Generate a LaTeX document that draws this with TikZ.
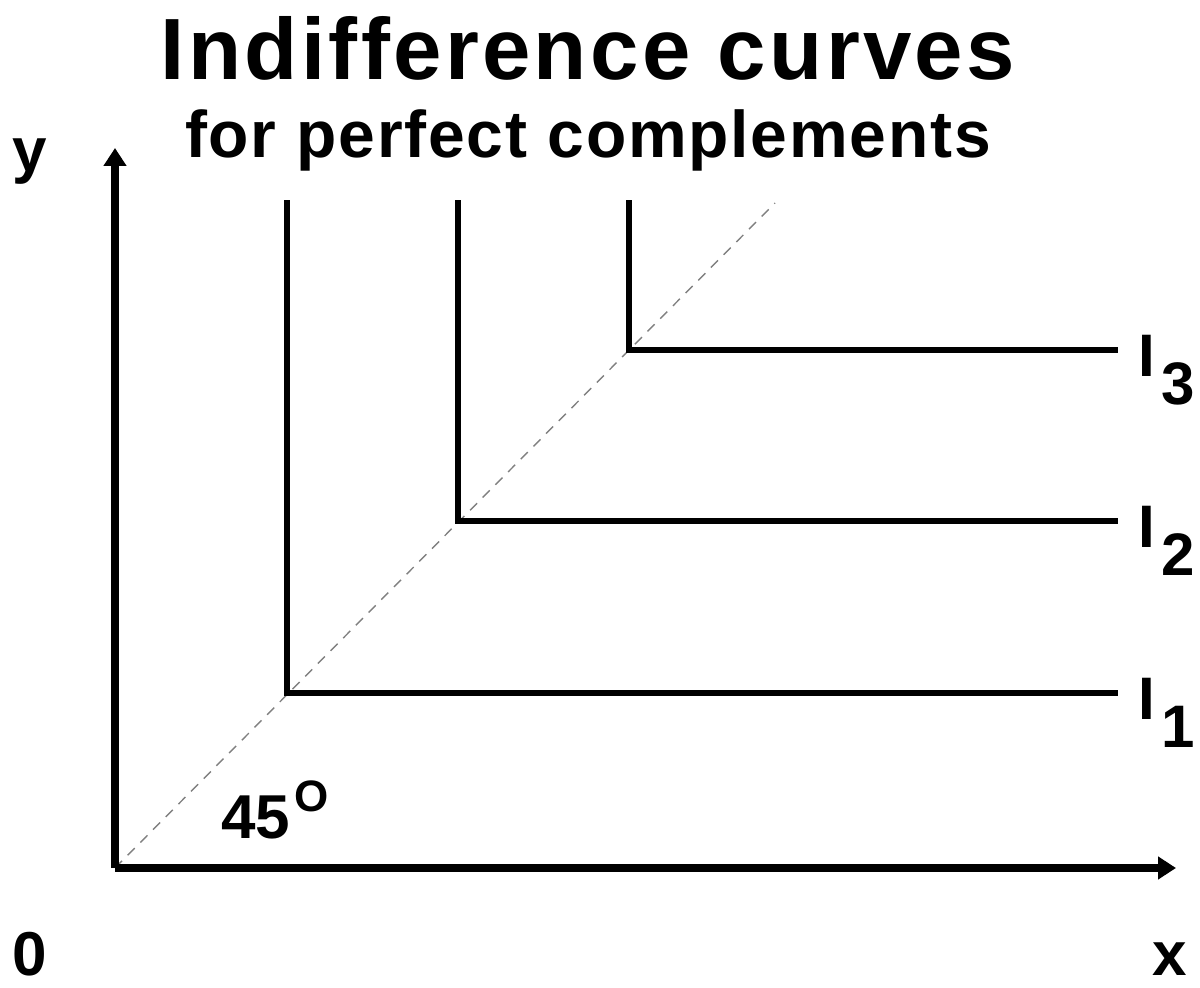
\documentclass[tikz,border=0pt]{standalone}
\usepackage{fontspec}
\setmainfont{Liberation Sans}
\usetikzlibrary{arrows.meta}

\begin{document}
\begin{tikzpicture}[
  x=0.5pt, y=-0.5pt,
  > = {Triangle[length=9pt, width=11pt]},
  axis/.style={->, line width=4pt},
  curve/.style={line width=3.3pt, line cap=rect},
  diag/.style={gray, line width=0.7pt, dash pattern=on 5pt off 4pt},
  lbl/.style={font=\fontsize{31}{31}\selectfont\bfseries, anchor=base, inner sep=0pt},
  ilbl/.style={font=\fontsize{30}{30}\selectfont\bfseries, anchor=base west, inner sep=0pt}
]
  \useasboundingbox (0, 0) rectangle (1200, 988);

  % title
  \node[anchor=base, font=\fontsize{43.5}{44}\selectfont\bfseries\addfontfeature{LetterSpace=3.8}]
    (title) at (588, 80) {Indifference curves};
  \node[anchor=base, font=\fontsize{33}{34}\selectfont\bfseries\addfontfeature{LetterSpace=2.7}]
    (subtitle) at (588, 158) {for perfect complements};

  % axes
  \coordinate (o)  at (115, 868);
  \coordinate (ytip) at (115, 148);
  \coordinate (xtip) at (1176, 868);
  \coordinate (dtop) at (775, 203);

  \draw[diag] (o) -- (dtop);
  \draw[axis] (o) -- (ytip);
  \draw[axis] (o) -- (xtip);

  \node[lbl] (ylab) at (30, 172) {y};
  \node[lbl] (zero) at (30, 975) {0};
  \node[lbl] (xlab) at (1170, 975) {x};
  \node[lbl, anchor=base west] (deg) at (221, 838)
    {45\kern2pt\raisebox{0.42em}{\fontsize{22}{22}\selectfont O}};

  % indifference curves
  \coordinate (t1) at (287, 203);
  \coordinate (c1) at (287, 693);
  \coordinate (e1) at (1115, 693);
  \coordinate (t2) at (458, 203);
  \coordinate (c2) at (458, 521);
  \coordinate (e2) at (1115, 521);
  \coordinate (t3) at (629, 203);
  \coordinate (c3) at (629, 350);
  \coordinate (e3) at (1115, 350);

  \draw[curve] (t1) -- (c1) -- (e1);
  \draw[curve] (t2) -- (c2) -- (e2);
  \draw[curve] (t3) -- (c3) -- (e3);

  \node[ilbl] (i1) at (1138, 719) {I\kern3pt\raisebox{-14pt}{1}};
  \node[ilbl] (i2) at (1138, 548) {I\kern3pt\raisebox{-14pt}{2}};
  \node[ilbl] (i3) at (1138, 377) {I\kern3pt\raisebox{-14pt}{3}};
\end{tikzpicture}
\end{document}
